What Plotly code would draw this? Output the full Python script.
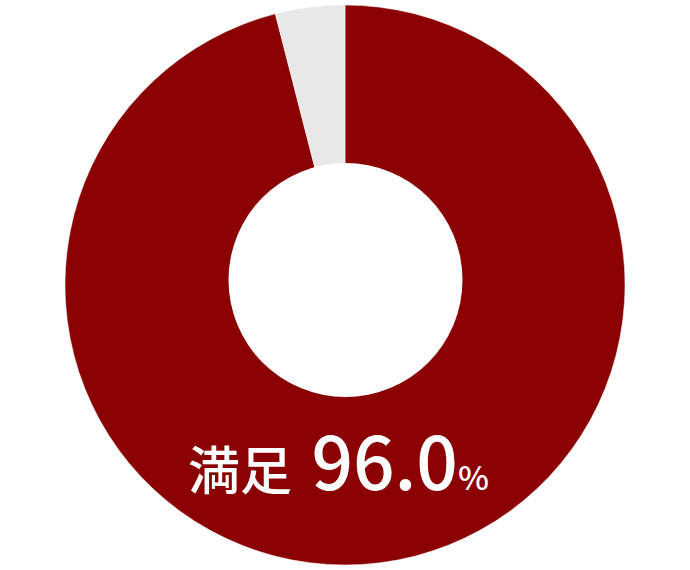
import plotly.graph_objects as go

labels = ["満足", "その他"]
values = [96.0, 4.0]
colors = ["#8b0000", "#e8e8e8"]

W, H = 690, 570

fig = go.Figure(go.Pie(
    labels=labels,
    values=values,
    sort=False,
    direction="clockwise",
    rotation=0,
    marker=dict(colors=colors, line=dict(color="white", width=0.5)),
    textinfo="none",
    hoverinfo="skip",
    showlegend=False,
    domain=dict(x=[0, 1], y=[5 / H, 565 / H]),
))

# hole (sits a few px above the pie centre, like the original)
fig.add_shape(type="circle", xref="paper", yref="paper",
              x0=228.5 / W, x1=462.5 / W, y0=1 - 397 / H, y1=1 - 163 / H,
              fillcolor="white", line=dict(width=0), layer="above")

pct = f"{values[0]:.1f}"
fig.add_annotation(
    x=338 / W, y=1 - 452 / H, xref="paper", yref="paper",
    xanchor="center", yanchor="middle", showarrow=False,
    text=(f"<span style='font-size:52px'>{labels[0]}</span>"
          "<span style='font-size:86px'> </span>"
          f"<span style='font-size:73px'>{pct}</span>"
          "<span style='font-size:33px'>%</span>"),
    font=dict(color="white", size=52, weight=500,
              family="Noto Sans CJK JP, Roboto"),
)

fig.update_layout(
    width=W, height=H,
    margin=dict(l=0, r=0, t=0, b=0),
    paper_bgcolor="white",
    plot_bgcolor="white",
)
# page has the browser's default 8px body margin; drop it
fig.write_html("out.html", config={"displayModeBar": False},
               post_script="document.body.style.margin='0';")
